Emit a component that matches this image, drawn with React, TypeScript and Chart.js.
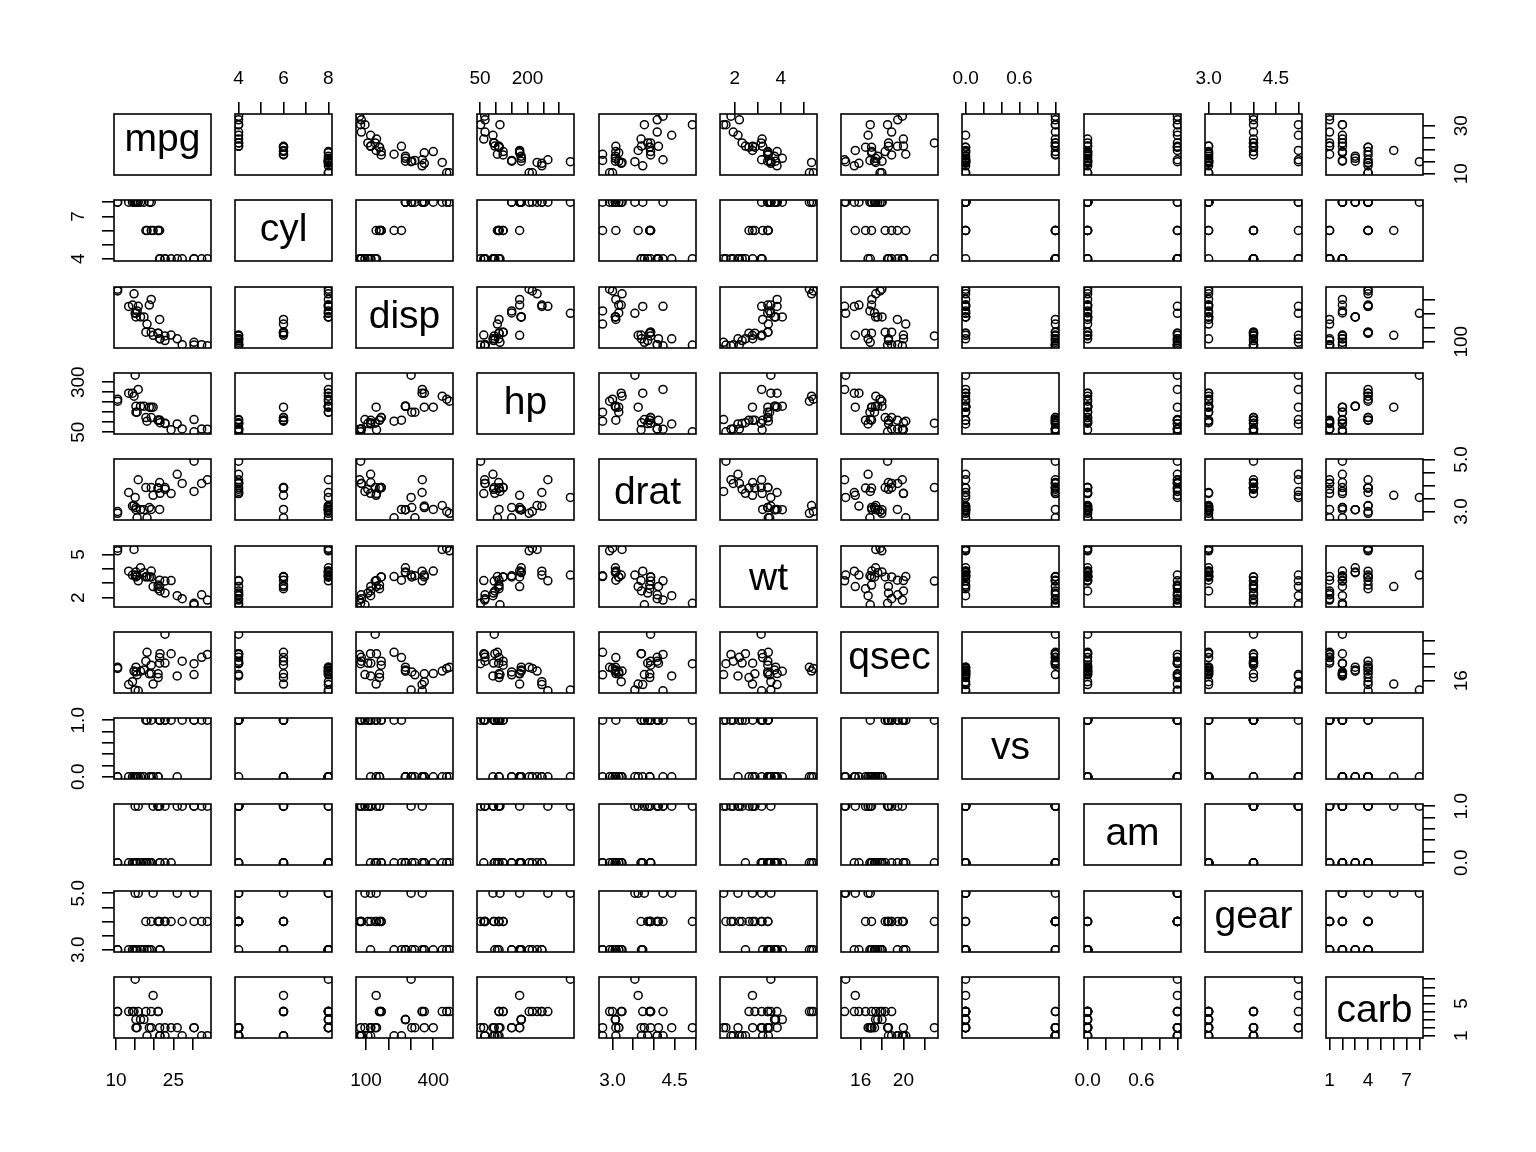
import React, { useEffect, useRef } from 'react';
import { Chart, registerables } from 'chart.js';

Chart.register(...registerables);

// ---- data (mtcars, as plotted) ----
const varNames = ['mpg', 'cyl', 'disp', 'hp', 'drat', 'wt', 'qsec', 'vs', 'am', 'gear', 'carb'];
const mpg = [21, 21, 22.8, 21.4, 18.7, 18.1, 14.3, 24.4, 22.8, 19.2, 17.8, 16.4, 17.3, 15.2, 10.4, 10.4, 14.7, 32.4, 30.4, 33.9, 21.5, 15.5, 15.2, 13.3, 19.2, 27.3, 26, 30.4, 15.8, 19.7, 15, 21.4];
const cyl = [6, 6, 4, 6, 8, 6, 8, 4, 4, 6, 6, 8, 8, 8, 8, 8, 8, 4, 4, 4, 4, 8, 8, 8, 8, 4, 4, 4, 8, 6, 8, 4];
const disp = [160, 160, 108, 258, 360, 225, 360, 146.7, 140.8, 167.6, 167.6, 275.8, 275.8, 275.8, 472, 460, 440, 78.7, 75.7, 71.1, 120.1, 318, 304, 350, 400, 79, 120.3, 95.1, 351, 145, 301, 121];
const hp = [110, 110, 93, 110, 175, 105, 245, 62, 95, 123, 123, 180, 180, 180, 205, 215, 230, 66, 52, 65, 97, 150, 150, 245, 175, 66, 91, 113, 264, 175, 335, 109];
const drat = [3.9, 3.9, 3.85, 3.08, 3.15, 2.76, 3.21, 3.69, 3.92, 3.92, 3.92, 3.07, 3.07, 3.07, 2.93, 3, 3.23, 4.08, 4.93, 4.22, 3.7, 2.76, 3.15, 3.73, 3.08, 4.08, 4.43, 3.77, 4.22, 3.62, 3.54, 4.11];
const wt = [2.62, 2.875, 2.32, 3.215, 3.44, 3.46, 3.57, 3.19, 3.15, 3.44, 3.44, 4.07, 3.73, 3.78, 5.25, 5.424, 5.345, 2.2, 1.615, 1.835, 2.465, 3.52, 3.435, 3.84, 3.845, 1.935, 2.14, 1.513, 3.17, 2.77, 3.57, 2.78];
const qsec = [16.46, 17.02, 18.61, 19.44, 17.02, 20.22, 15.84, 20, 22.9, 18.3, 18.9, 17.4, 17.6, 18, 17.98, 17.82, 17.42, 19.47, 18.52, 19.9, 20.01, 16.87, 17.3, 15.41, 17.05, 18.9, 16.7, 16.9, 14.5, 15.5, 14.6, 18.6];
const vs = [0, 0, 1, 1, 0, 1, 0, 1, 1, 1, 1, 0, 0, 0, 0, 0, 0, 1, 1, 1, 1, 0, 0, 0, 0, 1, 0, 1, 0, 0, 0, 1];
const am = [1, 1, 1, 0, 0, 0, 0, 0, 0, 0, 0, 0, 0, 0, 0, 0, 0, 1, 1, 1, 0, 0, 0, 0, 0, 1, 1, 1, 1, 1, 1, 1];
const gear = [4, 4, 4, 3, 3, 3, 3, 4, 4, 4, 4, 3, 3, 3, 3, 3, 3, 4, 4, 4, 3, 3, 3, 3, 3, 4, 5, 5, 5, 5, 5, 4];
const carb = [4, 4, 1, 1, 2, 1, 4, 2, 2, 4, 4, 3, 3, 3, 4, 4, 4, 1, 2, 1, 1, 2, 2, 4, 2, 1, 2, 2, 4, 6, 8, 2];

// ---- tick values ----
const mpgTicks = [10, 15, 20, 25, 30];
const cylTicks = [4, 5, 6, 7, 8];
const dispTicks = [100, 200, 300, 400];
const hpTicks = [50, 100, 150, 200, 250, 300];
const dratTicks = [3, 3.5, 4, 4.5, 5];
const wtTicks = [2, 3, 4, 5];
const qsecTicks = [16, 18, 20, 22];
const vsTicks = [0, 0.2, 0.4, 0.6, 0.8, 1];
const amTicks = [0, 0.2, 0.4, 0.6, 0.8, 1];
const gearTicks = [3, 3.5, 4, 4.5, 5];
const carbTicks = [1, 2, 3, 4, 5, 6, 7, 8];

// ---- tick labels shown on each outer side ----
const topLabels: Record<string, number[]> = { cyl: [4, 6, 8], hp: [50, 200], wt: [2, 4], vs: [0, 0.6], gear: [3, 4.5] };
const bottomLabels: Record<string, number[]> = { mpg: [10, 25], disp: [100, 400], drat: [3, 4.5], qsec: [16, 20], am: [0, 0.6], carb: [1, 4, 7] };
const leftLabels: Record<string, number[]> = { cyl: [4, 7], hp: [50, 300], wt: [2, 5], vs: [0, 1], gear: [3, 5] };
const rightLabels: Record<string, number[]> = { mpg: [10, 30], disp: [100], drat: [3, 5], qsec: [16], am: [0, 1], carb: [1, 5] };
const oneDecimal = ['drat', 'vs', 'am', 'gear'];

const values: Record<string, number[]> = { mpg, cyl, disp, hp, drat, wt, qsec, vs, am, gear, carb };
const ticksOf: Record<string, number[]> = {
  mpg: mpgTicks, cyl: cylTicks, disp: dispTicks, hp: hpTicks, drat: dratTicks, wt: wtTicks,
  qsec: qsecTicks, vs: vsTicks, am: amTicks, gear: gearTicks, carb: carbTicks,
};

// ---- layout ----
const FONT = "'Liberation Sans', Arial, Helvetica, sans-serif";
const TICK_FS = 19;
const LABEL_FS = 39;
const M = 60;
const PW = 97;
const PH = 61;
const colLeft = (j: number) => Math.round(113.5 + j * 121.27);
const rowTop = (i: number) => Math.round(114 + i * 86.3);
const TICK_LEN = 12;
const LW = 1.6;
const PT_LW = 1.5;

function range(v: number[]) {
  const lo = Math.min(...v);
  const hi = Math.max(...v);
  const d = (hi - lo) * 0.04;
  return [lo - d, hi + d];
}

function fmt(name: string, v: number) {
  return oneDecimal.includes(name) ? v.toFixed(1) : String(v);
}

function findLabel(list: number[] | undefined, v: number) {
  if (!list) return false;
  return list.some((l) => Math.abs(l - v) < 1e-9);
}

function Panel({ i, j }: { i: number; j: number }) {
  const ref = useRef<HTMLCanvasElement | null>(null);
  useEffect(() => {
    const canvas = ref.current;
    if (!canvas) return;
    const xName = varNames[j];
    const yName = varNames[i];
    const diag = i === j;
    const showTop = i === 0 && j % 2 === 1;
    const showBottom = i === 10 && j % 2 === 0;
    const showLeft = j === 0 && i % 2 === 1;
    const showRight = j === 10 && i % 2 === 0;
    const xPos = showTop ? 'top' : 'bottom';
    const yPos = showRight ? 'right' : 'left';
    const showX = showTop || showBottom;
    const showY = showLeft || showRight;
    const xLabels = showTop ? topLabels[xName] : bottomLabels[xName];
    const yLabels = showLeft ? leftLabels[yName] : rightLabels[yName];
    const [xmin, xmax] = range(values[xName]);
    const [ymin, ymax] = range(values[yName]);
    const pts = diag ? [] : values[xName].map((x, k) => ({ x, y: values[yName][k] }));

    const plugin = {
      id: 'pairsPanel',
      afterDraw(chart: any) {
        const { ctx, chartArea: a } = chart;
        ctx.save();
        ctx.strokeStyle = '#000';
        ctx.lineWidth = LW;
        ctx.strokeRect(a.left, a.top, a.right - a.left, a.bottom - a.top);
        ctx.fillStyle = '#000';
        if (diag) {
          ctx.font = `${LABEL_FS}px ${FONT}`;
          ctx.textAlign = 'center';
          ctx.textBaseline = 'alphabetic';
          const m = ctx.measureText(yName);
          const cx = (a.left + a.right) / 2;
          const cy = (a.top + a.bottom) / 2;
          ctx.fillText(yName, cx, cy + (m.actualBoundingBoxAscent - m.actualBoundingBoxDescent) / 2);
        }
        if (showY) {
          const ys = chart.scales.y;
          ctx.font = `${TICK_FS}px ${FONT}`;
          ctx.textAlign = 'center';
          ctx.textBaseline = 'alphabetic';
          for (const t of ys.ticks) {
            if (!findLabel(yLabels, t.value)) continue;
            const py = ys.getPixelForValue(t.value);
            const px = showLeft ? a.left - 37 : a.right + 37;
            ctx.save();
            ctx.translate(px, py);
            ctx.rotate(-Math.PI / 2);
            ctx.fillText(fmt(yName, t.value), 0, 0.358 * TICK_FS);
            ctx.restore();
          }
        }
        ctx.restore();
      },
    };

    const chart = new Chart(canvas, {
      type: 'scatter',
      data: {
        datasets: [
          {
            data: pts,
            pointRadius: 4,
            pointHoverRadius: 4,
            pointBorderWidth: PT_LW,
            pointBorderColor: '#000',
            pointBackgroundColor: 'rgba(0,0,0,0)',
            showLine: false,
            clip: 0,
          } as any,
        ],
      },
      options: {
        responsive: false,
        animation: false,
        devicePixelRatio: 1,
        events: [],
        layout: {
          padding: {
            top: xPos === 'top' ? 0 : M,
            bottom: xPos === 'bottom' ? 0 : M,
            left: yPos === 'left' ? 0 : M,
            right: yPos === 'right' ? 0 : M,
          },
        },
        plugins: { legend: { display: false }, tooltip: { enabled: false } },
        scales: {
          x: {
            type: 'linear',
            position: xPos,
            min: xmin,
            max: xmax,
            afterFit: (s: any) => { s.height = M; },
            afterBuildTicks: (s: any) => { s.ticks = ticksOf[xName].map((v) => ({ value: v })); },
            ticks: {
              display: showX,
              autoSkip: false,
              maxRotation: 0,
              minRotation: 0,
              padding: showTop ? 12 : 19,
              color: '#000',
              font: { family: FONT, size: TICK_FS },
              callback: (v: any) => (findLabel(xLabels, Number(v)) ? fmt(xName, Number(v)) : ''),
            },
            grid: { display: showX, drawOnChartArea: false, drawTicks: true, tickLength: TICK_LEN, color: '#000', lineWidth: LW },
            border: { display: false },
          },
          y: {
            type: 'linear',
            position: yPos,
            min: ymin,
            max: ymax,
            afterFit: (s: any) => { s.width = M; },
            afterBuildTicks: (s: any) => { s.ticks = ticksOf[yName].map((v) => ({ value: v })); },
            ticks: { display: false },
            grid: { display: showY, drawOnChartArea: false, drawTicks: true, tickLength: TICK_LEN, color: '#000', lineWidth: LW },
            border: { display: false },
          },
        },
      } as any,
      plugins: [plugin],
    });
    return () => chart.destroy();
  }, [i, j]);

  return (
    <canvas
      ref={ref}
      width={PW + 2 * M}
      height={PH + 2 * M}
      style={{ position: 'absolute', left: colLeft(j) - M, top: rowTop(i) - M, width: PW + 2 * M, height: PH + 2 * M }}
    />
  );
}

export default function App() {
  const cells: React.ReactNode[] = [];
  for (let i = 0; i < varNames.length; i++) {
    for (let j = 0; j < varNames.length; j++) {
      cells.push(<Panel key={`${i}-${j}`} i={i} j={j} />);
    }
  }
  return (
    <div style={{ position: 'absolute', left: 0, top: 0, width: 1536, height: 1152, background: '#fff', overflow: 'hidden' }}>
      {cells}
    </div>
  );
}
